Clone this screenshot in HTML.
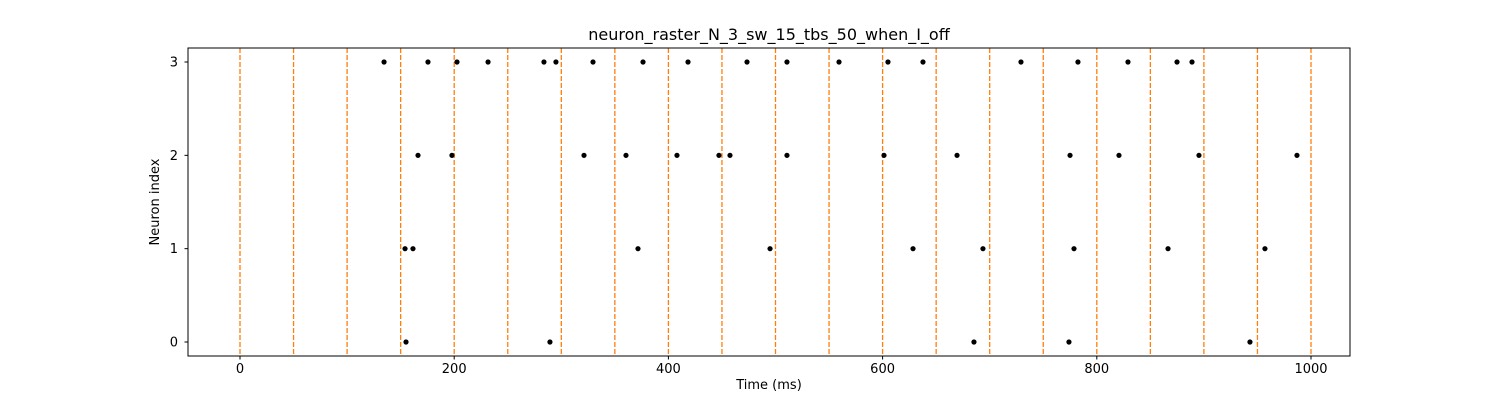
<!DOCTYPE html>
<html><head><meta charset="utf-8"><style>
body{margin:0;background:#fff;}
svg text{font-family:"DejaVu Sans","Liberation Sans",sans-serif;fill:#000;}
</style></head><body>
<svg id="chart" width="1500" height="400" xmlns="http://www.w3.org/2000/svg">
<rect width="1500" height="400" fill="#fff"/>
<text x="769" y="40" font-size="16" text-anchor="middle">neuron_raster_N_3_sw_15_tbs_50_when_I_off</text>
<g id="lines"></g><g id="points"></g><g id="axes"></g>
<rect x="188" y="48" width="1162" height="308" fill="none" stroke="#000" stroke-width="1"/>
<text x="769" y="389" font-size="13" text-anchor="middle">Time (ms)</text>
<text x="159" y="202" font-size="13" text-anchor="middle" transform="rotate(-90 159 202)">Neuron index</text>
</svg>
<script>
const xTicks=[0,200,400,600,800,1000];
const yTicks=[0,1,2,3];
const stimTimes=[0,50,100,150,200,250,300,350,400,450,500,550,600,650,700,750,800,850,900,950,1000];
const spikes3=[134.5,175.5,202.6,231.6,283.8,295.0,329.6,376.3,418.3,473.4,510.7,559.3,605.0,637.7,729.2,782.4,829.1,874.9,888.9];
const spikes2=[166.2,197.9,321.2,360.4,408.0,447.2,457.5,510.7,601.3,669.5,775.0,820.7,895.4,986.9];
const spikes1=[154.1,161.5,371.6,494.9,628.4,693.7,778.7,866.5,957.0];
const spikes0=[155.0,289.4,685.3,774.0,943.0];
const NS="http://www.w3.org/2000/svg";
const xS=v=>240+v*1.071;
const yS=v=>342-v*93.33;
function mk(t,a,p){const e=document.createElementNS(NS,t);for(const k in a)e.setAttribute(k,a[k]);p.appendChild(e);return e;}
const L=document.getElementById('lines'),P=document.getElementById('points'),A=document.getElementById('axes');
stimTimes.forEach(t=>{
 const l=mk('line',{x1:xS(t),x2:xS(t),y1:48,y2:356,stroke:'#ff7f0e','stroke-width':1.3,'stroke-dasharray':'5,2'},L);
 
 
});
[spikes0,spikes1,spikes2,spikes3].forEach((arr,i)=>arr.forEach(t=>{
 const c=mk('circle',{cx:xS(t),cy:yS(i),r:2.6,fill:'#000'},P);
 
 
}));
xTicks.forEach(v=>{
 const x=xS(v);
 mk('line',{x1:x,x2:x,y1:356,y2:359.5,stroke:'#000'},A);
 const t=mk('text',{x:x,y:373,'font-size':13,'text-anchor':'middle'},A);t.textContent=v;
 
 
});
yTicks.forEach(v=>{
 const y=yS(v);
 mk('line',{x1:184.5,x2:188,y1:y,y2:y,stroke:'#000'},A);
 const t=mk('text',{x:178,y:y+4.5,'font-size':13,'text-anchor':'end'},A);t.textContent=v;
 
 
});
</script>
</body></html>
